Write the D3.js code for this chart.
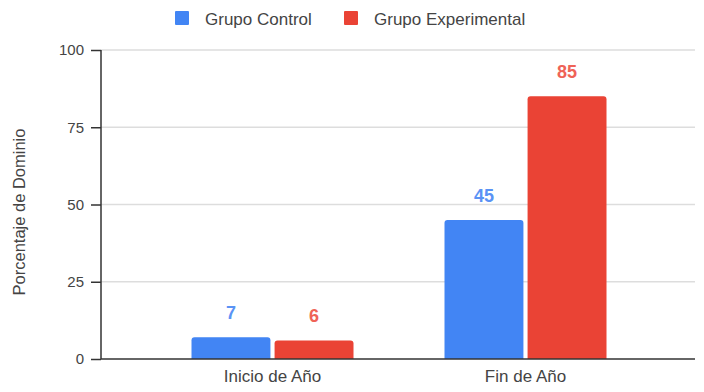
<!DOCTYPE html>
<html><head><meta charset="utf-8">
<script src="https://cdn.jsdelivr.net/npm/d3@7"></script>
<style>body{margin:0;background:#fff}svg{display:block;font-family:"Liberation Sans",Arial,sans-serif}</style>
</head><body><svg id="c" width="704" height="392"></svg>
<script>
const categories = ["Inicio de Año", "Fin de Año"];
const series = ["Grupo Control", "Grupo Experimental"];
const controlValues = [7, 45];
const experimentalValues = [6, 85];
const yTicks = [0, 25, 50, 75, 100];
const colors = ["#4285f4", "#ea4335"];
const labelColors = ["#5a93f5", "#ef6357"];

(function () {
const svg = d3.select("#c");
const pL = 101, pR = 695, pT = 50, pB = 359;
const y = d3.scaleLinear().domain([0, 100]).range([pB, pT]);
const x0 = d3.scaleBand().domain(categories).range([146, 652]).padding(0);
const groupW = 162;
const x1 = d3.scaleBand().domain(series).range([0, groupW]).paddingInner(0.05);
const off = (x0.bandwidth() - groupW) / 2;

// grid
svg.append("g").selectAll("line").data(yTicks.filter(d => d > 0)).join("line")
  .attr("x1", pL).attr("x2", pR).attr("y1", d => y(d)).attr("y2", d => y(d))
  .attr("stroke", "#dddddd").attr("stroke-width", 1.5);

// bars
const data = categories.map((c, i) => ({c, vals: [controlValues[i], experimentalValues[i]]}));
const g = svg.append("g");
data.forEach(d => {
  d.vals.forEach((v, j) => {
    const bx = x0(d.c) + off + x1(series[j]);
    const bw = x1.bandwidth();
    const r = 3, yt = y(v), yb = y(0);
    g.append("path")
      .attr("d", `M${bx},${yb}V${yt + r}Q${bx},${yt} ${bx + r},${yt}H${bx + bw - r}Q${bx + bw},${yt} ${bx + bw},${yt + r}V${yb}Z`)
      .attr("fill", colors[j]);
    g.append("text").attr("x", bx + bw / 2).attr("y", yt - 18)
      .attr("text-anchor", "middle").attr("font-size", 18).attr("font-weight", "bold")
      .attr("fill", labelColors[j]).text(v);
  });
});

// x axis baseline
svg.append("line").attr("x1", pL).attr("x2", pR).attr("y1", pB).attr("y2", pB)
  .attr("stroke", "#333").attr("stroke-width", 1.5);

// y axis
const yAxis = d3.axisLeft(y).tickValues(yTicks).tickSize(10).tickPadding(7);
const ya = svg.append("g").attr("transform", `translate(${pL},0)`).call(yAxis);
ya.select(".domain").attr("stroke", "#333").attr("stroke-width", 1.5).attr("d", `M0,${pT}V${pB}`);
ya.selectAll(".tick line").attr("stroke", "#333").attr("stroke-width", 1.5);
ya.selectAll(".tick text").attr("font-size", 15).attr("fill", "#444").attr("font-family", "Liberation Sans, Arial, sans-serif");

// x labels
svg.append("g").selectAll("text").data(categories).join("text")
  .attr("x", d => x0(d) + x0.bandwidth() / 2).attr("y", 382)
  .attr("text-anchor", "middle").attr("font-size", 17).attr("fill", "#444").text(d => d);

// y title
svg.append("text").attr("transform", "translate(25,212) rotate(-90)")
  .attr("text-anchor", "middle").attr("font-size", 16.5).attr("fill", "#444").text("Porcentaje de Dominio");

// legend
const legX = [175, 344];
series.forEach((s, i) => {
  svg.append("rect").attr("x", legX[i]).attr("y", 11).attr("width", 14).attr("height", 14).attr("rx", 1).attr("fill", colors[i]);
  svg.append("text").attr("x", legX[i] + 30).attr("y", 24.5).attr("font-size", 17).attr("fill", "#444").text(s);
});
})();
</script></body></html>
